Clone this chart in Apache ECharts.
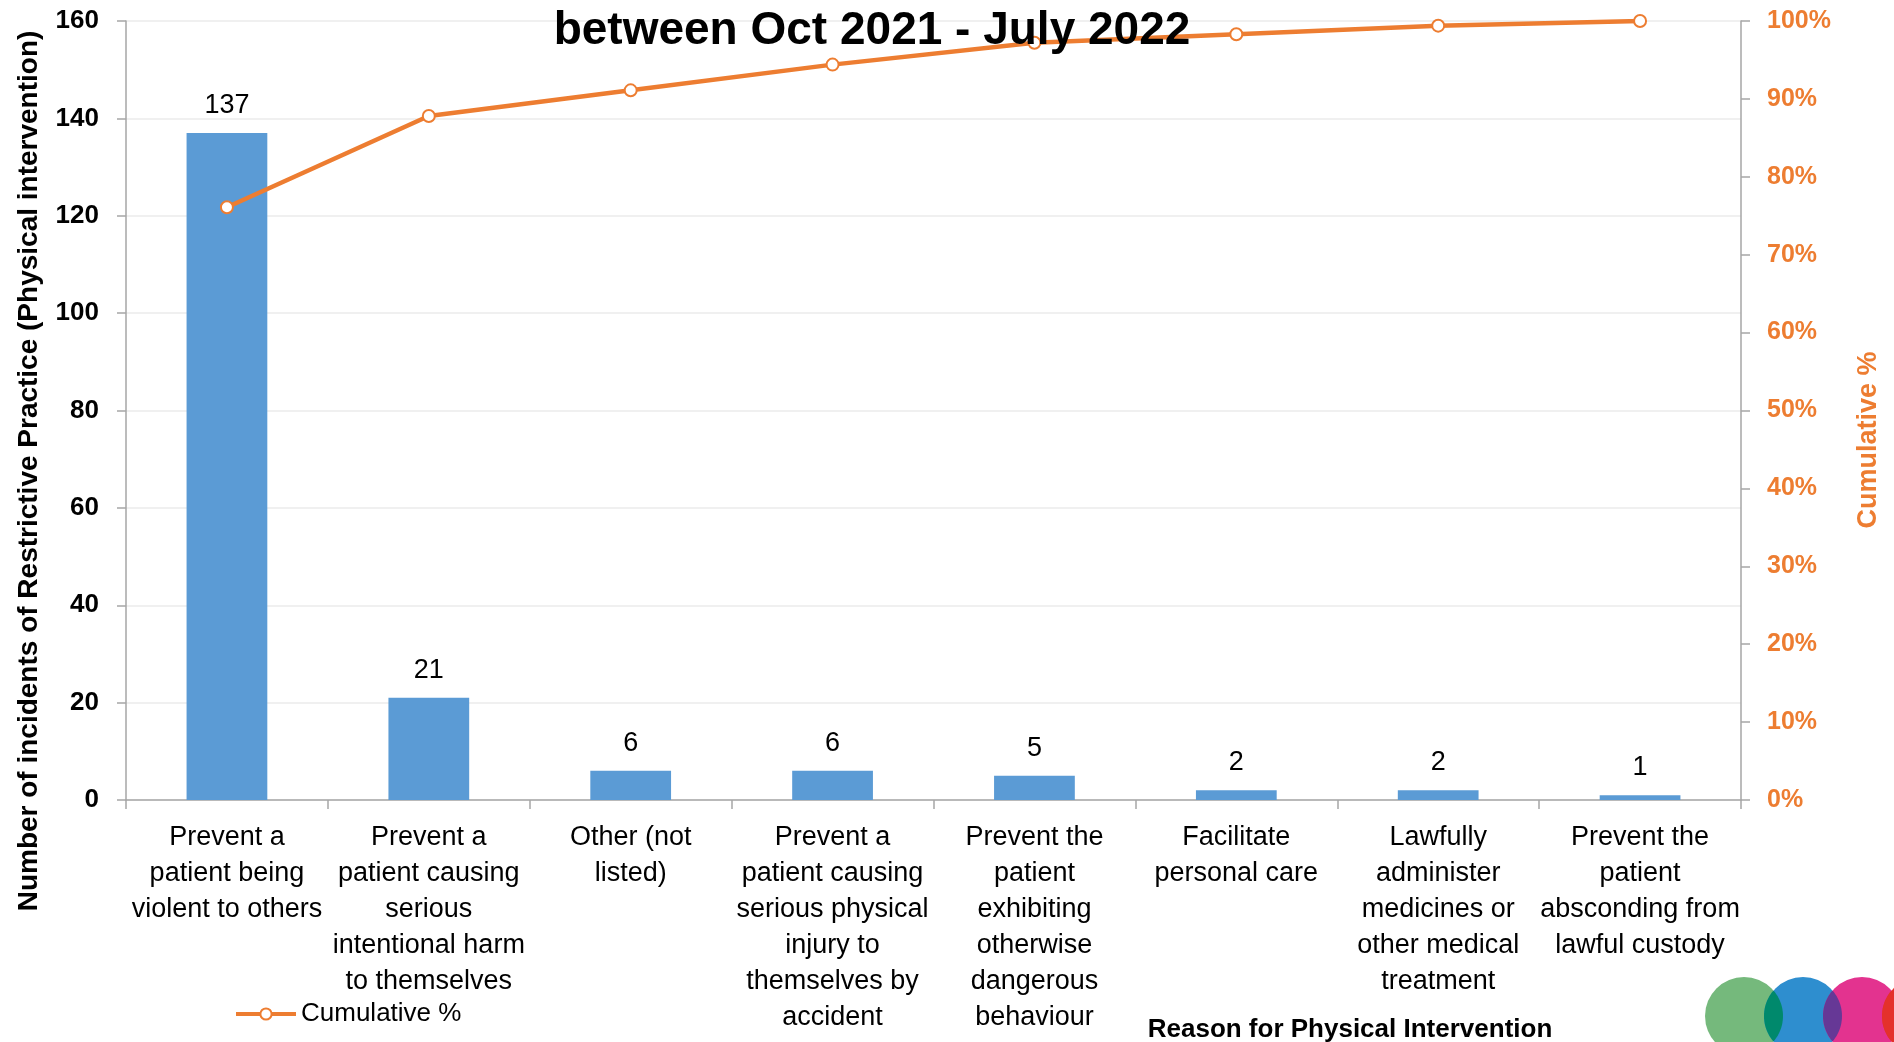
<!DOCTYPE html>
<html>
<head>
<meta charset="utf-8">
<style>
html,body{margin:0;padding:0;background:#fff;}
#chart{width:1894px;height:1042px;}
</style>
<script src="https://cdn.jsdelivr.net/npm/echarts@6/dist/echarts.min.js"></script>
</head>
<body>
<div id="chart"></div>
<script>
var categories = [
  "Prevent a\npatient being\nviolent to others",
  "Prevent a\npatient causing\nserious\nintentional harm\nto themselves",
  "Other (not\nlisted)",
  "Prevent a\npatient causing\nserious physical\ninjury to\nthemselves by\naccident",
  "Prevent the\npatient\nexhibiting\notherwise\ndangerous\nbehaviour",
  "Facilitate\npersonal care",
  "Lawfully\nadminister\nmedicines or\nother medical\ntreatment",
  "Prevent the\npatient\nabsconding from\nlawful custody"
];
var incidents = [137, 21, 6, 6, 5, 2, 2, 1];
var cumulativePct = [0.761, 0.878, 0.911, 0.944, 0.972, 0.983, 0.994, 1.0];
var leftTicks = {min: 0, max: 160, interval: 20};
var rightTicks = {min: 0, max: 1, interval: 0.1};

var FONT = '"Liberation Sans", Arial, sans-serif';
var ORANGE = '#ed7d31';
var BLUE = '#5b9bd5';
var AXIS = '#a6a6a6';

// decorative logo (overlapping circles)
var LOGO_R = 39, LOGO_CY = 1016;
var logoCircles = [
  {cx: 1744, fill: '#75b97c'},
  {cx: 1803, fill: '#2e8ecf'},
  {cx: 1862, fill: '#e3338f'},
  {cx: 1921, fill: '#e4312b'}
];
var lensFills = ['#00896c', '#663896', '#e4312b'];
function lensPoints(c1, c2, r, cy) {
  var d = c2 - c1, th = Math.acos((d / 2) / r), pts = [], n = 24, k, a;
  for (k = 0; k <= n; k++) { a = -th + 2 * th * k / n; pts.push([c1 + r * Math.cos(a), cy + r * Math.sin(a)]); }
  for (k = 0; k <= n; k++) { a = Math.PI - th + 2 * th * k / n; pts.push([c2 + r * Math.cos(a), cy + r * Math.sin(a)]); }
  return pts;
}
var logoGraphics = [];
logoCircles.forEach(function (c) {
  logoGraphics.push({type: 'circle', z: 5, shape: {cx: c.cx, cy: LOGO_CY, r: LOGO_R}, style: {fill: c.fill}});
});
for (var i = 0; i < logoCircles.length - 1; i++) {
  logoGraphics.push({type: 'polygon', z: 6, shape: {points: lensPoints(logoCircles[i].cx, logoCircles[i + 1].cx, LOGO_R, LOGO_CY)}, style: {fill: lensFills[i]}});
}

var chart = echarts.init(document.getElementById('chart'), null, {renderer: 'canvas'});
var option = {
  animation: false,
  backgroundColor: '#ffffff',
  textStyle: {fontFamily: FONT},
  grid: {left: 126, right: 153, top: 21, bottom: 242, containLabel: false},
  legend: {
    data: ['Cumulative %'],
    left: 229, top: 996,
    itemWidth: 60, itemHeight: 14, itemGap: 6,
    lineStyle: {width: 4},
    textStyle: {fontFamily: FONT, fontSize: 26, color: '#000'}
  },
  xAxis: {
    type: 'category',
    data: categories,
    axisLine: {lineStyle: {color: AXIS, width: 1.5}},
    axisTick: {show: true, alignWithLabel: false, length: 9, lineStyle: {color: AXIS, width: 1.5}},
    axisLabel: {interval: 0, margin: 20, fontFamily: FONT, fontSize: 27, lineHeight: 36, color: '#000', align: 'center'}
  },
  yAxis: [
    {
      type: 'value', min: leftTicks.min, max: leftTicks.max, interval: leftTicks.interval,
      axisLine: {show: true, lineStyle: {color: AXIS, width: 1.5}},
      axisTick: {show: true, length: 9, lineStyle: {color: AXIS, width: 1.5}},
      splitLine: {show: true, lineStyle: {color: '#ebebeb', width: 1.5}},
      axisLabel: {margin: 27, fontFamily: FONT, fontSize: 26, fontWeight: 'bold', color: '#000'}
    },
    {
      type: 'value', min: rightTicks.min, max: rightTicks.max, interval: rightTicks.interval,
      position: 'right',
      axisLine: {show: true, lineStyle: {color: AXIS, width: 1.5}},
      axisTick: {show: true, length: 9, lineStyle: {color: AXIS, width: 1.5}},
      splitLine: {show: false},
      axisLabel: {margin: 26, fontFamily: FONT, fontSize: 25, fontWeight: 'bold', color: ORANGE,
        formatter: function (v) { return Math.round(v * 100) + '%'; }}
    }
  ],
  series: [
    {
      name: 'Count', type: 'bar', data: incidents, barWidth: '40%',
      itemStyle: {color: BLUE},
      label: {show: true, position: 'top', distance: 14, fontFamily: FONT, fontSize: 27, color: '#000'},
      z: 2
    },
    {
      name: 'Cumulative %', type: 'line', yAxisIndex: 1, data: cumulativePct,
      symbol: 'circle', symbolSize: 12,
      lineStyle: {color: ORANGE, width: 4.5},
      itemStyle: {color: '#ffffff', borderColor: ORANGE, borderWidth: 2},
      z: 3
    }
  ],
  graphic: [
    {type: 'text', z: 10, x: 872, y: 31,
      style: {text: 'between Oct 2021 - July 2022', fontFamily: FONT, fontSize: 46, fontWeight: 'bold', fill: '#000', align: 'center', verticalAlign: 'middle'}},
    {type: 'text', z: 10, x: 29, y: 471, rotation: Math.PI / 2,
      style: {text: 'Number of incidents of Restrictive Practice (Physical intervention)', fontFamily: FONT, fontSize: 28, fontWeight: 'bold', fill: '#000', align: 'center', verticalAlign: 'middle'}},
    {type: 'text', z: 10, x: 1869, y: 440, rotation: Math.PI / 2,
      style: {text: 'Cumulative %', fontFamily: FONT, fontSize: 27, fontWeight: 'bold', fill: ORANGE, align: 'center', verticalAlign: 'middle'}},
    {type: 'text', z: 10, x: 1350, y: 1030,
      style: {text: 'Reason for Physical Intervention', fontFamily: FONT, fontSize: 26, fontWeight: 'bold', fill: '#000', align: 'center', verticalAlign: 'middle'}}
  ].concat(logoGraphics)
};
chart.setOption(option);
</script>
</body>
</html>
